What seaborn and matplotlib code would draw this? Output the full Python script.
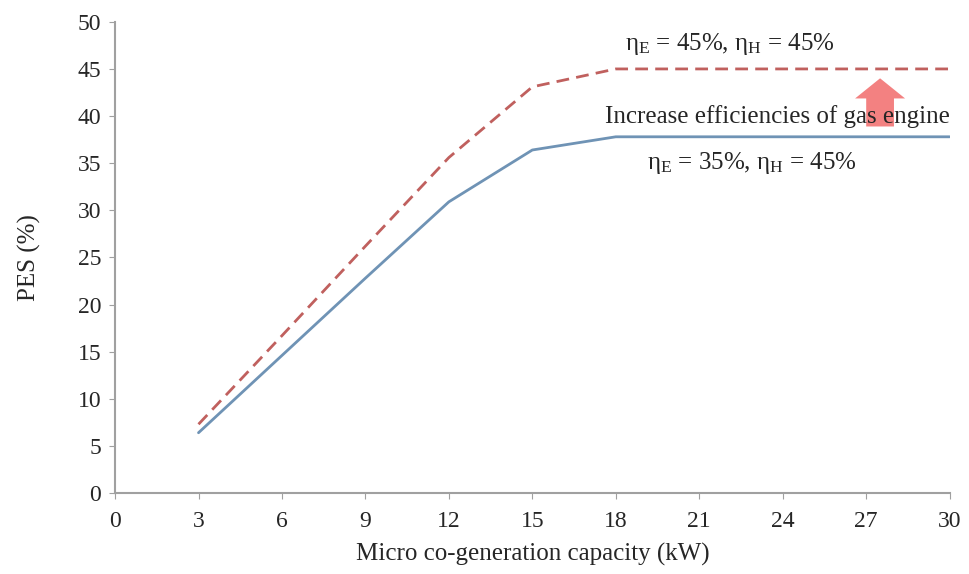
import matplotlib
matplotlib.use("Agg")
import matplotlib.pyplot as plt
import pandas as pd
import seaborn as sns

capacity = [3, 6, 9, 12, 15, 18, 21, 24, 27, 30]
pes_base = [6.4, 14.6, 22.8, 30.9, 36.4, 37.8, 37.8, 37.8, 37.8, 37.8]
pes_high = [7.3, 16.7, 26.2, 35.6, 43.1, 45.0, 45.0, 45.0, 45.0, 45.0]
x_ticks = [0, 3, 6, 9, 12, 15, 18, 21, 24, 27, 30]
y_ticks = [0, 5, 10, 15, 20, 25, 30, 35, 40, 45, 50]

sns.set_style("white")
plt.rcParams["font.family"] = ["Liberation Serif", "DejaVu Serif"]
plt.rcParams["mathtext.fontset"] = "custom"
plt.rcParams["mathtext.rm"] = "Liberation Serif"
plt.rcParams["mathtext.it"] = "Liberation Serif:italic"

df = pd.DataFrame({"cap": capacity, "base": pes_base, "high": pes_high})

fig = plt.figure(figsize=(9.7, 5.74), dpi=100)
ax = fig.add_axes([0.1186, 0.141, 0.8604, 0.821])

sns.lineplot(data=df, x="cap", y="high", ax=ax, color="#c0605e",
             linestyle=(0, (4.6, 2.6)), linewidth=2)
sns.lineplot(data=df, x="cap", y="base", ax=ax, color="#6f93b5",
             linewidth=2)

# arrow showing the efficiency increase
ax.annotate("", xy=(27.5, 44.3), xytext=(27.5, 38.6),
            arrowprops=dict(arrowstyle="simple,head_width=3.6,head_length=1.45,tail_width=2.0",
                            color="#f38181", lw=0), zorder=1)

fs = 18
ax.text(22.1, 47.6, r"η$_\mathrm{E}$ = 45%, η$_\mathrm{H}$ = 45%",
        ha="center", va="center", fontsize=fs)
ax.text(23.8, 40.0, "Increase efficiencies of gas engine",
        ha="center", va="center", fontsize=fs, zorder=3)
ax.text(22.9, 35.0, r"η$_\mathrm{E}$ = 35%, η$_\mathrm{H}$ = 45%",
        ha="center", va="center", fontsize=fs)

ax.set_xlim(0, 30)
ax.set_ylim(0, 50)
ax.set_xticks(x_ticks)
ax.set_yticks(y_ticks)
ax.set_xlabel("Micro co-generation capacity (kW)", fontsize=fs, labelpad=8)
ax.set_ylabel("PES (%)", fontsize=fs, labelpad=26)
ax.tick_params(axis="both", labelsize=17, direction="out", length=4,
               color="#a0a0a0", bottom=True, left=True)
ax.tick_params(axis="x", pad=9)
ax.tick_params(axis="y", pad=6)
sns.despine(ax=ax)
for s in ("left", "bottom"):
    ax.spines[s].set_color("#a0a0a0")
    ax.spines[s].set_linewidth(1.5)

fig.savefig("out.png", dpi=100)
